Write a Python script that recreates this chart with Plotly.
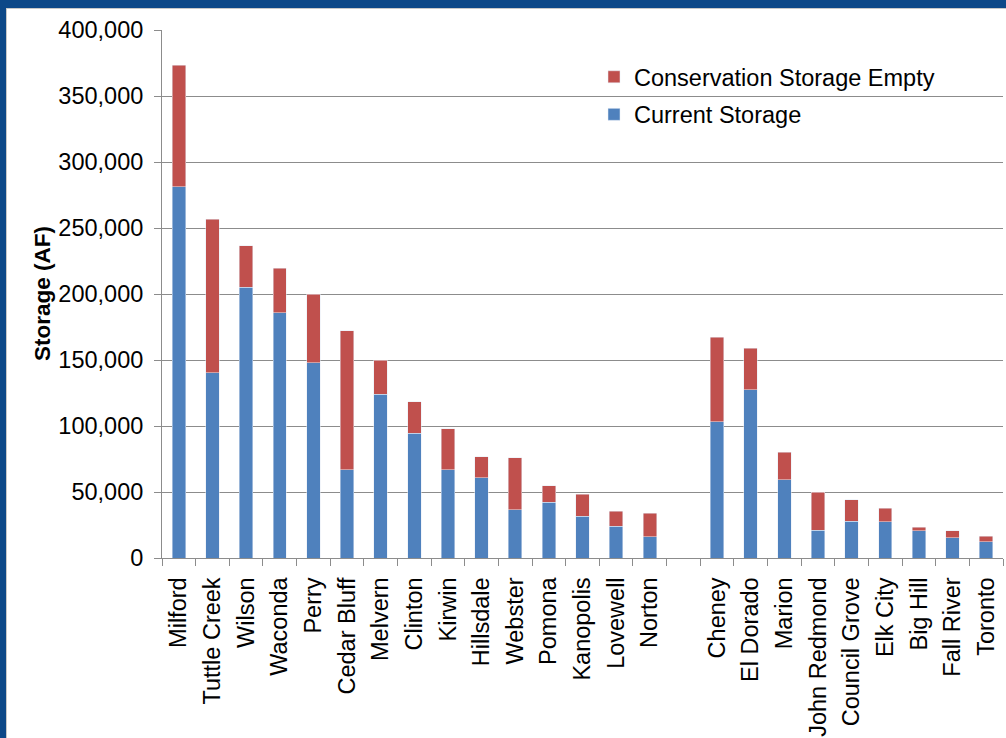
import plotly.graph_objects as go

categories = ["Milford", "Tuttle Creek", "Wilson", "Waconda", "Perry", "Cedar Bluff",
              "Melvern", "Clinton", "Kirwin", "Hillsdale", "Webster", "Pomona",
              "Kanopolis", "Lovewell", "Norton", " ",
              "Cheney", "El Dorado", "Marion", "John Redmond", "Council Grove",
              "Elk City", "Big Hill", "Fall River", "Toronto"]

current_storage = [281400, 140500, 205300, 185900, 148000, 67000,
                   124200, 94700, 67000, 60900, 36700, 42400,
                   31600, 24000, 16200, None,
                   103300, 127600, 59100, 21200, 28000,
                   27500, 20600, 15400, 12300]

conservation_empty = [91900, 116100, 31100, 33800, 52000, 105300,
                      25600, 23700, 31000, 15900, 39400, 12400,
                      16700, 11600, 17700, None,
                      64100, 31300, 21200, 28600, 16100,
                      10100, 2600, 5200, 4100]

y_ticks = [0, 50000, 100000, 150000, 200000, 250000, 300000, 350000, 400000]

BLUE = "#4F81BD"
RED = "#C0504D"
GRID = "#8c8c8c"
FONT = "Arial, Liberation Sans, sans-serif"
FS = 23.5

fig = go.Figure()
fig.add_trace(go.Bar(x=categories, y=current_storage, name="Current Storage",
                     marker=dict(color=BLUE), legendgroup="a", legendrank=2))
fig.add_trace(go.Bar(x=categories, y=conservation_empty, name="Conservation Storage Empty",
                     marker=dict(color=RED), legendgroup="b", legendrank=1))

W, H = 1006, 738
L, R, T, B = 162, 3, 30, 180
pw, ph = W - L - R, H - T - B


def px_x(p):
    return (p - L) / pw


def px_y(p):
    return (H - B - p) / ph


BORDER = "#0d4888"
shapes = [
    dict(type="rect", xref="paper", yref="paper", x0=px_x(0), x1=px_x(6),
         y0=px_y(738), y1=px_y(0), fillcolor=BORDER, line=dict(width=0), layer="above"),
    dict(type="rect", xref="paper", yref="paper", x0=px_x(0), x1=px_x(1006),
         y0=px_y(8), y1=px_y(0), fillcolor=BORDER, line=dict(width=0), layer="above"),
    dict(type="line", xref="paper", yref="paper", x0=px_x(7), x1=px_x(1006),
         y0=px_y(8.5), y1=px_y(8.5), line=dict(color="#c8c8c8", width=1)),
    dict(type="line", xref="paper", yref="paper", x0=px_x(6.5), x1=px_x(6.5),
         y0=px_y(738), y1=px_y(8), line=dict(color="#c8c8c8", width=1)),
]

fig.update_layout(
    width=W, height=H,
    margin=dict(l=L, r=R, t=T, b=B, autoexpand=False),
    paper_bgcolor="white", plot_bgcolor="white",
    barmode="stack", bargap=0.6,
    font=dict(family=FONT, size=FS, color="black"),
    showlegend=True,
    legend=dict(x=px_x(594), y=px_y(55), xanchor="left", yanchor="top",
                traceorder="grouped", tracegroupgap=4,
                font=dict(family=FONT, size=FS, color="black"),
                bgcolor="rgba(0,0,0,0)", itemwidth=30),
    shapes=shapes,
    annotations=[dict(text="<b>Storage (AF)</b>", xref="paper", yref="paper",
                      x=px_x(42), y=0.5, textangle=-90, showarrow=False,
                      xanchor="center", yanchor="middle",
                      font=dict(family=FONT, size=22.5, color="black"))],
)

fig.update_xaxes(type="category", tickangle=-90, showline=True, linecolor=GRID, linewidth=1,
                 ticks="outside", tickson="boundaries", ticklen=7, tickcolor=GRID,
                 showgrid=False, tickfont=dict(family=FONT, size=FS, color="black"),
                 ticklabelstandoff=9)
fig.update_yaxes(range=[0, 400000], tickvals=y_ticks, tickformat=",d",
                 showgrid=True, gridcolor=GRID, gridwidth=1,
                 showline=True, linecolor=GRID, linewidth=1,
                 ticks="outside", ticklen=7, tickcolor=GRID, zeroline=False,
                 tickfont=dict(family=FONT, size=FS, color="black"),
                 ticklabelstandoff=6)

fig.write_html("out.html", config={"displayModeBar": False},
               post_script="document.body.style.margin='0px';")
